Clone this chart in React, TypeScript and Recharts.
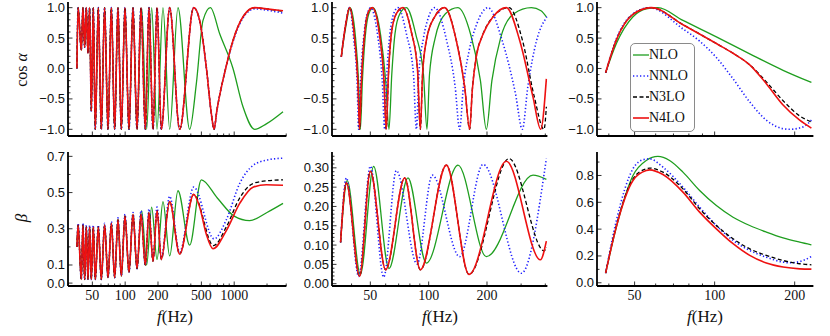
import React from 'react';
import { LineChart, Line, XAxis, YAxis } from 'recharts';

type Pt = [number, number];

const SANS = '"Liberation Sans", Arial, sans-serif';
const SERIF = '"Liberation Serif", "Times New Roman", serif';

const GREEN = '#1f9e1f';
const BLUE = '#2020ff';
const BLACK = '#000000';
const RED = '#ee1111';

// ---- column 1 (cos alpha / beta, 30 Hz - 3 kHz) ----
const p1Nlo: Pt[] = [
  [36.1, 0.0], [37.0, 1.0], [39.6, 0.3], [41.0, 1.0], [42.5, 0.35], [44.0, 1.0], [45.6, 0.25], [47.2, 1.0],
  [48.9, -0.7], [51.0, 1.0], [53.2, -1.0], [56.7, 1.0], [60.4, -1.0], [64.8, 1.0], [69.6, -1.0], [74.7, 1.0],
  [80.1, -1.0], [85.9, 1.0], [92.2, -1.0], [99.6, 1.0], [108.4, -1.0], [118.0, 1.0], [128.4, -1.0],
  [141.7, 1.0], [157.5, -1.0], [175, 1.0], [195.9, -1.0], [222.2, 1.0], [256, -1.0], [305, 1.0],
  [390.5, -1.0], [449.6, -0.25], [517.6, 0.79], [605, 1.0], [736, 0.57], [975, 0.0], [1204, -0.63],
  [1542, -1.0], [1972, -0.91], [2805, -0.71],
];
const p1Nnlo: Pt[] = [
  [36.1, 0.0], [37.0, 1.0], [39.6, 0.3], [41.0, 1.0], [42.5, 0.35], [44.0, 1.0], [45.6, 0.25], [47.2, 1.0],
  [48.9, -0.7], [51.0, 1.0], [53.2, -1.0], [56.7, 1.0], [60.4, -1.0], [64.8, 1.0], [69.6, -1.0], [74.7, 1.0],
  [80.1, -1.0], [85.9, 1.0], [92.2, -1.0], [99.6, 1.0], [108.4, -1.0], [118.0, 1.0], [128.4, -1.0],
  [139.7, 1.0], [153.0, -1.0], [165.4, 1.0], [180.0, -1.0], [196.0, 1.0], [214.6, -1.0], [256, 1.0],
  [316, -1.0], [425, 1.0], [482, 0.79], [555, 0.02], [617, -0.74], [653, -1.0], [694, -0.69], [835, 0.0],
  [975, 0.44], [1204, 0.83], [1542, 0.98], [1972, 0.96], [2805, 0.91],
];
const p1N3lo: Pt[] = [
  [36.1, 0.0], [37.0, 1.0], [39.6, 0.3], [41.0, 1.0], [42.5, 0.35], [44.0, 1.0], [45.6, 0.25], [47.2, 1.0],
  [48.9, -0.7], [51.0, 1.0], [53.2, -1.0], [56.7, 1.0], [60.4, -1.0], [64.8, 1.0], [69.6, -1.0], [74.7, 1.0],
  [80.1, -1.0], [85.9, 1.0], [92.2, -1.0], [99.6, 1.0], [108.4, -1.0], [118.0, 1.0], [128.4, -1.0],
  [139.7, 1.0], [153.0, -1.0], [165.4, 1.0], [180.0, -1.0], [196.0, 1.0], [214.6, -1.0], [256, 1.0],
  [316, -1.0], [425, 1.0], [482, 0.79], [555, 0.02], [617, -0.74], [653, -1.0], [694, -0.69], [835, 0.0],
  [975, 0.46], [1204, 0.85], [1542, 1.0], [1972, 0.98], [2805, 0.94],
];
const p1N4lo: Pt[] = [
  [36.1, 0.0], [37.0, 1.0], [39.6, 0.3], [41.0, 1.0], [42.5, 0.35], [44.0, 1.0], [45.6, 0.25], [47.2, 1.0],
  [48.9, -0.7], [51.0, 1.0], [53.2, -1.0], [56.7, 1.0], [60.4, -1.0], [64.8, 1.0], [69.6, -1.0], [74.7, 1.0],
  [80.1, -1.0], [85.9, 1.0], [92.2, -1.0], [99.6, 1.0], [108.4, -1.0], [118.0, 1.0], [128.4, -1.0],
  [139.7, 1.0], [153.0, -1.0], [165.4, 1.0], [180.0, -1.0], [196.0, 1.0], [214.6, -1.0], [256, 1.0],
  [316, -1.0], [425, 1.0], [482, 0.79], [555, 0.02], [617, -0.74], [653, -1.0], [694, -0.69], [835, 0.0],
  [975, 0.46], [1204, 0.85], [1542, 1.0], [1972, 0.98], [2805, 0.95],
];

const p4Nlo: Pt[] = [
  [36.1, 0.2], [37.0, 0.32], [39.6, 0.02], [41.0, 0.32], [42.5, 0.02], [44.0, 0.31], [45.6, 0.02], [47.2, 0.31],
  [48.9, 0.02], [51.0, 0.31], [53.2, 0.02], [56.7, 0.31], [60.4, 0.02], [64.8, 0.32], [69.6, 0.03], [74.7, 0.33],
  [80.1, 0.03], [85.9, 0.35], [92.2, 0.04], [99.6, 0.37], [108.4, 0.06], [118.0, 0.38], [128.4, 0.08],
  [141.7, 0.40], [157.5, 0.1], [175, 0.42], [195.9, 0.13], [222.2, 0.45], [256, 0.15], [305, 0.51],
  [390.5, 0.21], [499.6, 0.57], [700, 0.47], [1000, 0.37], [1387, 0.345], [2000, 0.39], [2805, 0.44],
];
const p4Nnlo: Pt[] = [
  [36.1, 0.2], [37.0, 0.33], [39.6, 0.02], [41.0, 0.33], [42.5, 0.02], [44.0, 0.32], [45.6, 0.02], [47.2, 0.32],
  [48.9, 0.02], [51.0, 0.32], [53.2, 0.02], [56.7, 0.32], [60.4, 0.02], [64.8, 0.33], [69.6, 0.03], [74.7, 0.34],
  [80.1, 0.03], [85.9, 0.36], [92.2, 0.04], [99.6, 0.38], [108.4, 0.06], [118.0, 0.39], [128.4, 0.08],
  [139.7, 0.40], [153.0, 0.1], [165.4, 0.41], [180.0, 0.13], [196.0, 0.42], [214.6, 0.14], [256, 0.48],
  [316, 0.17], [425, 0.53], [653, 0.244], [847, 0.35], [1123, 0.55], [1488, 0.65], [2000, 0.68], [2805, 0.69],
];
const p4N3lo: Pt[] = [
  [36.1, 0.2], [37.0, 0.32], [39.6, 0.02], [41.0, 0.32], [42.5, 0.02], [44.0, 0.31], [45.6, 0.02], [47.2, 0.31],
  [48.9, 0.02], [51.0, 0.31], [53.2, 0.02], [56.7, 0.31], [60.4, 0.02], [64.8, 0.32], [69.6, 0.03], [74.7, 0.33],
  [80.1, 0.03], [85.9, 0.35], [92.2, 0.04], [99.6, 0.37], [108.4, 0.06], [118.0, 0.38], [128.4, 0.08],
  [139.7, 0.38], [153.0, 0.1], [165.4, 0.39], [180.0, 0.12], [196.0, 0.40], [214.6, 0.13], [256, 0.45],
  [316, 0.16], [425, 0.49], [645, 0.207], [847, 0.31], [1123, 0.47], [1488, 0.55], [2000, 0.565], [2805, 0.57],
];
const p4N4lo: Pt[] = [
  [36.1, 0.2], [37.0, 0.32], [39.6, 0.02], [41.0, 0.32], [42.5, 0.02], [44.0, 0.31], [45.6, 0.02], [47.2, 0.31],
  [48.9, 0.02], [51.0, 0.31], [53.2, 0.02], [56.7, 0.31], [60.4, 0.02], [64.8, 0.32], [69.6, 0.03], [74.7, 0.33],
  [80.1, 0.03], [85.9, 0.35], [92.2, 0.04], [99.6, 0.37], [108.4, 0.06], [118.0, 0.38], [128.4, 0.08],
  [139.7, 0.38], [153.0, 0.1], [165.4, 0.39], [180.0, 0.12], [196.0, 0.40], [214.6, 0.13], [256, 0.45],
  [316, 0.16], [425, 0.49], [482, 0.42], [555, 0.27], [639, 0.19], [847, 0.29], [1123, 0.44], [1488, 0.53],
  [1972, 0.543], [2805, 0.54],
];

// ---- column 2 (32 - 410 Hz) ----
const p2Nlo: Pt[] = [
  [35.4, 0.19], [37.4, 0.7], [39.3, 1.0], [41.8, 0.55], [43.6, -0.3], [44.4, -1.0], [45.5, -0.2], [47.5, 0.65],
  [49.8, 0.95], [51.6, 1.0], [56.5, 0.55], [60.0, -0.2], [62.4, -1.0], [64.5, -0.1], [67.0, 0.57], [71.0, 0.9],
  [76.7, 1.0], [86.0, 0.55], [94.0, -0.1], [98.0, -1.0], [101, -0.1], [108, 0.5], [122, 0.9], [141.7, 1.0],
  [165, 0.55], [185, -0.2], [198.5, -1.0], [212, -0.2], [235, 0.5], [275, 0.9], [339, 1.0], [380, 0.95],
  [405, 0.85],
];
const p2Nnlo: Pt[] = [
  [35.4, 0.19], [37.2, 0.7], [39.1, 1.0], [41.0, 0.5], [42.8, -0.3], [43.5, -1.0], [44.5, -0.2], [46.5, 0.6],
  [48.8, 0.95], [50.0, 1.0], [54.5, 0.55], [57.6, -0.2], [59.3, -1.0], [60.8, -0.1], [63.0, 0.55], [66.0, 0.9],
  [69.4, 1.0], [77.0, 0.55], [83.5, -0.1], [86.4, -1.0], [89.0, -0.1], [94.0, 0.5], [100, 0.85], [107.4, 1.0],
  [124, 0.45], [137, -0.3], [144.5, -1.0], [151, -0.3], [162, 0.3], [178, 0.75], [202.5, 1.0], [240, 0.45],
  [280, -0.4], [304.5, -1.0], [325, -0.3], [360, 0.45], [409, 0.85],
];
const p2N3lo: Pt[] = [
  [35.4, 0.19], [37.2, 0.7], [39.1, 1.0], [41.3, 0.55], [43.2, -0.3], [44.0, -1.0], [45.0, -0.2], [47.0, 0.65],
  [49.2, 0.95], [51.2, 1.0], [55.8, 0.55], [58.8, -0.2], [60.4, -1.0], [62.0, -0.1], [64.2, 0.57], [68.1, 0.9],
  [73.7, 1.0], [81.4, 0.6], [87.5, 0.0], [90.6, -1.0], [93.0, -0.1], [97.3, 0.46], [107.4, 0.85], [120.9, 1.0],
  [138.9, 0.46], [153.4, -0.3], [162.8, -1.0], [168, -0.35], [176.2, 0.2], [190, 0.55], [215, 0.85],
  [259.8, 1.0], [305, 0.46], [350, -0.45], [393.9, -1.0], [405, -0.63],
];
const p2N4lo: Pt[] = [
  [35.4, 0.19], [37.2, 0.7], [39.1, 1.0], [41.3, 0.55], [43.2, -0.3], [44.0, -1.0], [45.0, -0.2], [47.0, 0.65],
  [49.2, 0.95], [51.2, 1.0], [55.8, 0.55], [58.8, -0.2], [60.4, -1.0], [62.0, -0.1], [64.2, 0.57], [68.1, 0.9],
  [73.7, 1.0], [81.4, 0.6], [87.5, 0.0], [90.6, -1.0], [93.0, -0.1], [97.3, 0.46], [107.4, 0.85], [120.9, 1.0],
  [138.9, 0.46], [153.4, -0.3], [162.8, -1.0], [168, -0.35], [176.2, 0.2], [190, 0.55], [215, 0.85],
  [251.8, 1.0], [295, 0.46], [345.6, -0.47], [378.6, -1.0], [405, -0.17],
];

const p5Nlo: Pt[] = [
  [35.1, 0.107], [38.0, 0.267], [44.4, 0.024], [52.0, 0.304], [62.4, 0.039], [78.2, 0.274], [97.3, 0.053],
  [141.7, 0.307], [198.5, 0.07], [345.6, 0.281], [405, 0.27],
];
const p5Nnlo: Pt[] = [
  [35.1, 0.107], [37.6, 0.274], [43.5, 0.019], [50.0, 0.304], [58.6, 0.017], [68.1, 0.293], [87.1, 0.051],
  [104.4, 0.281], [144.5, 0.07], [190.8, 0.309], [300.9, 0.027], [405, 0.324],
];
const p5N3lo: Pt[] = [
  [35.1, 0.107], [37.6, 0.261], [44.0, 0.019], [50.0, 0.291], [60.0, 0.036], [75.2, 0.274], [90.6, 0.036],
  [123.4, 0.307], [161.5, 0.024], [259.8, 0.324], [395, 0.085], [405, 0.095],
];
const p5N4lo: Pt[] = [
  [35.1, 0.107], [37.6, 0.261], [44.0, 0.019], [50.0, 0.291], [60.0, 0.036], [75.2, 0.274], [90.6, 0.036],
  [123.4, 0.307], [161.5, 0.024], [251.8, 0.317], [377.1, 0.062], [405, 0.11],
];

// ---- column 3 (36 - 235 Hz) ----
const p3Nlo: Pt[] = [
  [38.9, -0.07], [42.7, 0.41], [49.3, 0.85], [55.3, 0.98], [61.2, 1.0], [76.0, 0.79], [101.5, 0.52],
  [135.5, 0.24], [180.9, -0.03], [231.2, -0.23],
];
const p3Nnlo: Pt[] = [
  [38.9, -0.07], [42.7, 0.49], [49.3, 0.9], [56.9, 1.0], [76.0, 0.65], [87.8, 0.45], [101.5, 0.18],
  [117.3, -0.17], [135.5, -0.55], [156.5, -0.85], [180.9, -0.99], [191.6, -1.0], [215.1, -0.96], [231.2, -0.85],
];
const p3N3lo: Pt[] = [
  [38.9, -0.07], [42.7, 0.47], [49.3, 0.89], [57.8, 1.0], [76.0, 0.72], [101.5, 0.41], [117.3, 0.25],
  [135.5, 0.06], [156.5, -0.22], [180.9, -0.53], [208.9, -0.78], [231.2, -0.88],
];
const p3N4lo: Pt[] = [
  [38.9, -0.07], [42.7, 0.47], [49.3, 0.89], [57.8, 1.0], [76.0, 0.72], [101.5, 0.41], [117.3, 0.25],
  [135.5, 0.06], [156.5, -0.25], [180.9, -0.6], [208.9, -0.85], [231.2, -0.98],
];

const p6Nlo: Pt[] = [
  [38.9, 0.072], [42.7, 0.415], [49.3, 0.8], [55.3, 0.912], [61.2, 0.942], [67.7, 0.912], [76.0, 0.825],
  [87.8, 0.688], [101.5, 0.576], [117.3, 0.489], [135.5, 0.427], [156.5, 0.378], [180.9, 0.335],
  [208.9, 0.303], [231.2, 0.283],
];
const p6Nnlo: Pt[] = [
  [38.9, 0.072], [42.7, 0.465], [49.3, 0.85], [53.7, 0.917], [56.9, 0.924], [63.9, 0.862], [76.0, 0.713],
  [87.8, 0.564], [101.5, 0.427], [117.3, 0.316], [135.5, 0.241], [156.5, 0.191], [180.9, 0.154],
  [191.6, 0.149], [215.1, 0.166], [231.2, 0.196],
];
const p6N3lo: Pt[] = [
  [38.9, 0.072], [42.7, 0.427], [49.3, 0.775], [55.3, 0.85], [56.9, 0.855], [63.9, 0.825], [76.0, 0.70],
  [87.8, 0.552], [101.5, 0.427], [117.3, 0.328], [135.5, 0.253], [156.5, 0.204], [180.9, 0.166],
  [208.9, 0.142], [231.2, 0.134],
];
const p6N4lo: Pt[] = [
  [38.9, 0.072], [42.7, 0.42], [49.3, 0.763], [55.3, 0.837], [56.9, 0.842], [63.9, 0.807], [76.0, 0.676],
  [87.8, 0.527], [101.5, 0.402], [117.3, 0.291], [135.5, 0.204], [156.5, 0.147], [180.9, 0.117],
  [208.9, 0.104], [231.2, 0.102],
];

// ticks
const xTicksWide = [50, 100, 200, 500, 1000];
const xMinorWide = [30, 40, 60, 70, 80, 90, 300, 400, 600, 700, 800, 900, 2000, 3000];
const xTicksMid = [50, 100, 200];
const xMinorMid = [40, 60, 70, 80, 90, 300, 400];
const xTicksNarrow = [50, 100, 200];
const xMinorNarrow = [40, 60, 70, 80, 90];
const cosTicks = [-1, -0.5, 0, 0.5, 1];
const cosMinor = [-0.9, -0.8, -0.7, -0.6, -0.4, -0.3, -0.2, -0.1, 0.1, 0.2, 0.3, 0.4, 0.6, 0.7, 0.8, 0.9];
const betaTicksWide = [0, 0.1, 0.3, 0.5, 0.7];
const betaMinorWide = [0.2, 0.4, 0.6];
const betaTicksMid = [0, 0.05, 0.1, 0.15, 0.2, 0.25, 0.3];
const betaMinorMid = [0.01, 0.02, 0.03, 0.04, 0.06, 0.07, 0.08, 0.09, 0.11, 0.12, 0.13, 0.14, 0.16, 0.17, 0.18, 0.19, 0.21, 0.22, 0.23, 0.24, 0.26, 0.27, 0.28, 0.29, 0.31, 0.32, 0.33];
const betaTicksNarrow = [0, 0.2, 0.4, 0.6, 0.8];
const betaMinorNarrow = [0.1, 0.3, 0.5, 0.7, 0.9];

const LEGEND = ['NLO', 'NNLO', 'N3LO', 'N4LO'];

type Style = { color: string; dash?: string; width: number };
const STYLES: Style[] = [
  { color: GREEN, width: 1.3 },
  { color: BLUE, dash: '1.3 2.2', width: 1.6 },
  { color: BLACK, dash: '4 2.5', width: 1.3 },
  { color: RED, width: 1.6 },
];

const near = (a: number, b: number) => Math.abs(a - b) <= 1e-6 * Math.max(1, Math.abs(b));

function makeTick(side: string, labeled: number[], fmt?: (v: number) => string, font?: string, size?: number) {
  return (props: any) => {
    const { x, y, payload } = props;
    const v = payload.value;
    const major = labeled.some((l) => near(v, l));
    const len = major ? 4.5 : 2.5;
    let line;
    if (side === 'bottom') line = <line x1={x} x2={x} y1={y} y2={y - len} stroke="#000" strokeWidth={0.8} />;
    else if (side === 'top') line = <line x1={x} x2={x} y1={y} y2={y + len} stroke="#000" strokeWidth={0.8} />;
    else if (side === 'left') line = <line x1={x} x2={x + len} y1={y} y2={y} stroke="#000" strokeWidth={0.8} />;
    else line = <line x1={x} x2={x - len} y1={y} y2={y} stroke="#000" strokeWidth={0.8} />;
    let label = null;
    if (fmt && major) {
      if (side === 'bottom') {
        label = (
          <text x={x} y={y + 14} textAnchor="middle" fontFamily={font} fontSize={size} fill="#111">
            {fmt(v)}
          </text>
        );
      } else if (side === 'left') {
        label = (
          <text x={x - 3} y={y + 4.5} textAnchor="end" fontFamily={font} fontSize={size} fill="#111">
            {fmt(v)}
          </text>
        );
      }
    }
    return (
      <g>
        {line}
        {label}
      </g>
    );
  };
}

const fmtCos = (v: number) => (v < 0 ? '\u2212' : '') + Math.abs(v).toFixed(1);
const fmt1 = (v: number) => v.toFixed(1);
const fmt2 = (v: number) => v.toFixed(2);
const fmtInt = (v: number) => String(v);

type PanelProps = {
  box: [number, number, number, number];
  xDom: [number, number];
  xMajor: number[];
  xMinor: number[];
  xLabels: boolean;
  yDom: [number, number];
  yMajor: number[];
  yMinor: number[];
  yFmt: (v: number) => string;
  series: Pt[][];
};

function Panel({ box, xDom, xMajor, xMinor, xLabels, yDom, yMajor, yMinor, yFmt, series }: PanelProps) {
  const [x0, y0, x1, y1] = box;
  const YW = 60, XH = 28, MT = 4, MR = 4;
  const w = x1 - x0 + YW + MR;
  const h = y1 - y0 + MT + XH;
  const frame = { stroke: '#000', strokeWidth: 1.8 };
  const xt = [...xMajor, ...xMinor];
  const yt = [...yMajor, ...yMinor];
  return (
    <div style={{ position: 'absolute', left: x0 - YW, top: y0 - MT, width: w, height: h }}>
      <LineChart width={w} height={h} margin={{ top: MT, right: MR, bottom: 0, left: 0 }}>
        <XAxis xAxisId="b" type="number" dataKey="f" scale="log" domain={xDom} allowDataOverflow ticks={xt}
          interval={0} height={XH} tickSize={0} tickMargin={0} tickLine={false} axisLine={frame}
          tick={makeTick('bottom', xMajor, xLabels ? fmtInt : undefined, SERIF, 14)} />
        <XAxis xAxisId="t" orientation="top" type="number" dataKey="f" scale="log" domain={xDom} allowDataOverflow
          ticks={xt} interval={0} height={0} tickSize={0} tickMargin={0} tickLine={false} axisLine={frame}
          tick={makeTick('top', xMajor)} />
        <YAxis yAxisId="l" type="number" domain={yDom} allowDataOverflow ticks={yt} interval={0} width={YW}
          tickSize={0} tickMargin={0} tickLine={false} axisLine={frame}
          tick={makeTick('left', yMajor, yFmt, SANS, 13)} />
        <YAxis yAxisId="r" orientation="right" type="number" domain={yDom} allowDataOverflow ticks={yt} interval={0}
          width={0} tickSize={0} tickMargin={0} tickLine={false} axisLine={frame} tick={makeTick('right', yMajor)} />
        {series.map((pts, i) => (
          <Line key={i} xAxisId="b" yAxisId="l" data={pts.map(([f, v]) => ({ f, v }))} dataKey="v" type="monotone"
            dot={false} activeDot={false} isAnimationActive={false} stroke={STYLES[i].color}
            strokeWidth={STYLES[i].width} strokeDasharray={STYLES[i].dash} />
        ))}
      </LineChart>
    </div>
  );
}

export default function App() {
  const cosDom: [number, number] = [-1.11, 1.093];
  return (
    <div style={{ position: 'absolute', left: 0, top: 0, width: 830, height: 336, background: '#fff', overflow: 'hidden' }}>
      <Panel box={[68.3, 1.7, 286.7, 135.7]} xDom={[29.9, 3011]} xMajor={xTicksWide} xMinor={xMinorWide} xLabels={false}
        yDom={cosDom} yMajor={cosTicks} yMinor={cosMinor} yFmt={fmtCos} series={[p1Nlo, p1Nnlo, p1N3lo, p1N4lo]} />
      <Panel box={[332.3, 1.7, 547.7, 135.7]} xDom={[31.7, 410]} xMajor={xTicksMid} xMinor={xMinorMid} xLabels={false}
        yDom={cosDom} yMajor={cosTicks} yMinor={cosMinor} yFmt={fmtCos} series={[p2Nlo, p2Nnlo, p2N3lo, p2N4lo]} />
      <Panel box={[597.3, 1.7, 813.7, 135.7]} xDom={[36.1, 235.2]} xMajor={xTicksNarrow} xMinor={xMinorNarrow} xLabels={false}
        yDom={cosDom} yMajor={cosTicks} yMinor={cosMinor} yFmt={fmtCos} series={[p3Nlo, p3Nnlo, p3N3lo, p3N4lo]} />
      <Panel box={[68.3, 151.5, 286.7, 285.5]} xDom={[29.9, 3011]} xMajor={xTicksWide} xMinor={xMinorWide} xLabels
        yDom={[-0.016, 0.724]} yMajor={betaTicksWide} yMinor={betaMinorWide} yFmt={fmt1} series={[p4Nlo, p4Nnlo, p4N3lo, p4N4lo]} />
      <Panel box={[332.3, 151.5, 547.7, 285.5]} xDom={[31.7, 410]} xMajor={xTicksMid} xMinor={xMinorMid} xLabels
        yDom={[-0.006, 0.341]} yMajor={betaTicksMid} yMinor={betaMinorMid} yFmt={fmt2} series={[p5Nlo, p5Nnlo, p5N3lo, p5N4lo]} />
      <Panel box={[597.3, 151.5, 813.7, 285.5]} xDom={[36.1, 235.2]} xMajor={xTicksNarrow} xMinor={xMinorNarrow} xLabels
        yDom={[-0.024, 0.975]} yMajor={betaTicksNarrow} yMinor={betaMinorNarrow} yFmt={fmt1} series={[p6Nlo, p6Nnlo, p6N3lo, p6N4lo]} />

      <div style={{ position: 'absolute', left: 630, top: 43, width: 65, height: 89, border: '1px solid #8a8a8a', borderRadius: 5, background: '#fff', boxSizing: 'border-box' }}>
        {LEGEND.map((name, i) => (
          <div key={name} style={{ position: 'absolute', left: 2, top: 2 + i * 21, height: 18, display: 'flex', alignItems: 'center' }}>
            <svg width={16} height={18}>
              <line x1={0} x2={16} y1={9} y2={9} stroke={STYLES[i].color} strokeWidth={STYLES[i].width} strokeDasharray={STYLES[i].dash} />
            </svg>
            <span style={{ fontFamily: SERIF, fontSize: 14, lineHeight: '18px', color: '#111' }}>{name}</span>
          </div>
        ))}
      </div>

      <svg width={830} height={336} style={{ position: 'absolute', left: 0, top: 0, pointerEvents: 'none' }}>
        <text transform="translate(27,70) rotate(-90)" textAnchor="middle" fontFamily={SERIF} fontSize={16} fill="#111">
          cos <tspan fontStyle="italic">α</tspan>
        </text>
        <text transform="translate(27,218) rotate(-90)" textAnchor="middle" fontFamily={SERIF} fontSize={17} fontStyle="italic" fill="#111">
          β
        </text>
        {[175, 440, 705].map((cx) => (
          <text key={cx} x={cx} y={322} textAnchor="middle" fontFamily={SERIF} fontSize={17} fill="#111">
            <tspan fontStyle="italic">f</tspan>(Hz)
          </text>
        ))}
      </svg>
    </div>
  );
}
